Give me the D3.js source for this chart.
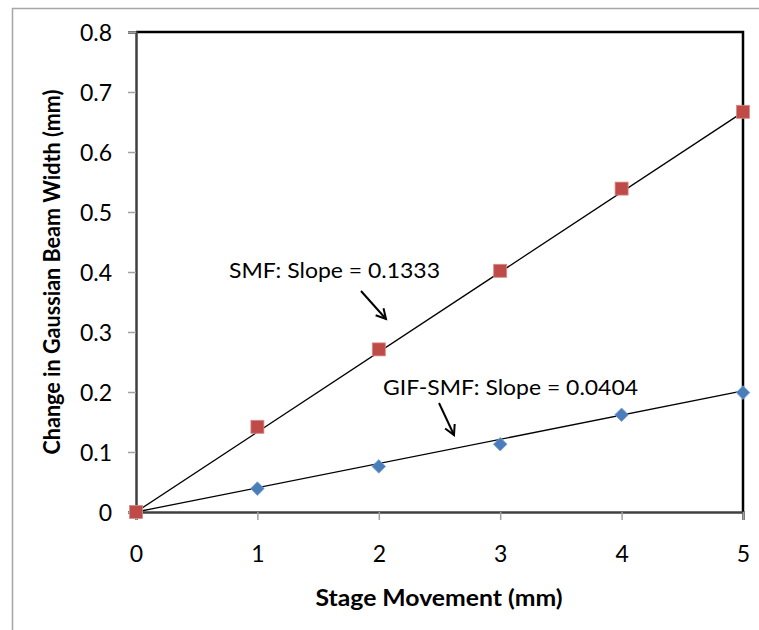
<!DOCTYPE html>
<html><head><meta charset="utf-8">
<script src="https://cdn.jsdelivr.net/npm/d3@7"></script>
<style>body{margin:0;background:#fff}svg{display:block}text{font-family:Lato,"Open Sans",sans-serif}</style>
</head><body><svg id="c" width="759" height="630"></svg>
<script>
const xValues = [0, 1, 2, 3, 4, 5];
const smfValues = [0, 0.142, 0.271, 0.402, 0.539, 0.667];
const gifValues = [0, 0.039, 0.076, 0.113, 0.162, 0.199];
const smfSlope = 0.1333, gifSlope = 0.0404;
const xTicks = [0, 1, 2, 3, 4, 5];
const yTicks = [0, 0.1, 0.2, 0.3, 0.4, 0.5, 0.6, 0.7, 0.8];
const xTitle = "Stage Movement (mm)";
const yTitle = "Change in Gaussian Beam Width (mm)";
const smfLabel = "SMF: Slope = 0.1333";
const gifLabel = "GIF-SMF: Slope = 0.0404";

const svg = d3.select("#c");
const L = 136, R = 743, T = 32, B = 512;
const x = d3.scaleLinear().domain([0, 5]).range([L, R]);
const y = d3.scaleLinear().domain([0, 0.8]).range([B, T]);

// outer chart border
svg.append("path").attr("d", "M12.5,630 V8.5 H759").attr("fill", "none").attr("stroke", "#a6a6a6").attr("stroke-width", 1.5);

// top & right frame
svg.append("path").attr("d", `M${L},${T} H${R} V${B}`).attr("fill", "none").attr("stroke", "#000").attr("stroke-width", 2.5);

// axes
const yAxis = svg.append("g").attr("transform", `translate(${L},0)`)
  .call(d3.axisLeft(y).tickValues(yTicks).tickSize(8).tickPadding(16).tickFormat(d => d === 0 ? "0" : d3.format(".1f")(d)));
const xAxis = svg.append("g").attr("transform", `translate(0,${B})`)
  .call(d3.axisBottom(x).tickValues(xTicks).tickSize(8).tickPadding(26).tickFormat(d3.format("d")));
[yAxis, xAxis].forEach(g => {
  g.attr("font-size", 23).attr("font-family", "Lato, sans-serif");
  g.select(".domain").attr("stroke", "#404040").attr("stroke-width", 2.5);
  g.selectAll(".tick line").attr("stroke", "#a0a0a0").attr("stroke-width", 1.5);
  g.selectAll(".tick text").attr("fill", "#000");
});
yAxis.selectAll(".tick text").attr("dy", "0.35em");

// trend lines
svg.append("line").attr("x1", x(0)).attr("y1", y(0)).attr("x2", x(5)).attr("y2", y(5 * smfSlope)).attr("stroke", "#000").attr("stroke-width", 1.3);
svg.append("line").attr("x1", x(0)).attr("y1", y(0)).attr("x2", x(5)).attr("y2", y(5 * gifSlope)).attr("stroke", "#000").attr("stroke-width", 1.3);

// markers
svg.append("g").selectAll("path").data(xValues).join("path")
  .attr("transform", (d, i) => `translate(${x(d)},${y(gifValues[i])}) rotate(45)`)
  .attr("d", "M-4.8,-4.8H4.8V4.8H-4.8Z").attr("fill", "#4a7ebb").attr("stroke", "#7aa0d2").attr("stroke-width", 0.8);
svg.append("g").selectAll("rect").data(xValues).join("rect")
  .attr("x", d => x(d) - 6.5).attr("y", (d, i) => y(smfValues[i]) - 6.5)
  .attr("width", 13).attr("height", 13).attr("fill", "#be4b48").attr("stroke", "#d88a88").attr("stroke-width", 0.8);

// annotations
svg.append("text").attr("x", 229).attr("y", 278).attr("font-size", 21).attr("textLength", 211).attr("lengthAdjust", "spacingAndGlyphs").text(smfLabel);
svg.append("text").attr("x", 383).attr("y", 395).attr("font-size", 21).attr("textLength", 255).attr("lengthAdjust", "spacingAndGlyphs").text(gifLabel);

function arrow(x1, y1, x2, y2) {
  svg.append("line").attr("x1", x1).attr("y1", y1).attr("x2", x2).attr("y2", y2).attr("stroke", "#000").attr("stroke-width", 2);
  const a = Math.atan2(y2 - y1, x2 - x1), len = 11, sp = 0.5;
  const p = [[x2 - len * Math.cos(a - sp), y2 - len * Math.sin(a - sp)], [x2, y2], [x2 - len * Math.cos(a + sp), y2 - len * Math.sin(a + sp)]];
  svg.append("path").attr("d", d3.line()(p)).attr("fill", "none").attr("stroke", "#000").attr("stroke-width", 2);
}
arrow(361, 291, 386, 319);
arrow(439, 403, 454, 435);

// axis titles
svg.append("text").attr("x", 439).attr("y", 606).attr("text-anchor", "middle").attr("font-size", 23).attr("font-weight", "bold").attr("textLength", 247).attr("lengthAdjust", "spacingAndGlyphs").text(xTitle);
svg.append("text").attr("transform", "translate(60,272) rotate(-90)").attr("text-anchor", "middle").attr("font-size", 23).attr("font-weight", "bold").attr("textLength", 365).attr("lengthAdjust", "spacingAndGlyphs").text(yTitle);
</script></body></html>
